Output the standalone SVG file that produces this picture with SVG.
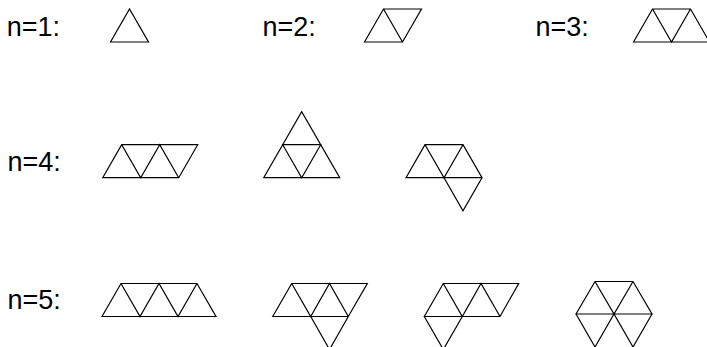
<svg xmlns="http://www.w3.org/2000/svg" width="707" height="347" viewBox="0 0 707 347">
<style>
.lbl{font-family:"Liberation Sans",Arial,sans-serif;font-size:27px;fill:#000}
.tri{fill:none;stroke:#000;stroke-width:1.2;stroke-linejoin:miter}
</style>
<rect width="707" height="347" fill="#fff"/>
<g id="labels">
<text class="lbl" x="6.8" y="36">n=1:</text>
<text class="lbl" x="262.5" y="36">n=2:</text>
<text class="lbl" x="535.5" y="36">n=3:</text>
<text class="lbl" x="7.5" y="170.7">n=4:</text>
<text class="lbl" x="7.5" y="309.3">n=5:</text>
</g>
<g id="n1"><path class="tri" d="M110.5,42 L129.5,9 L148.5,42 Z"/></g>
<g id="n2"><path class="tri" d="M364.5,42 L383.5,9 L421.5,9 L402.5,42 Z M383.5,9 L402.5,42"/></g>
<g id="n3"><path class="tri" d="M633.5,42 L652.5,9 L690.5,9 L709.5,42 Z M652.5,9 L671.5,42 L690.5,9"/></g>
<g id="n4a"><path class="tri" d="M102.7,177.7 L121.7,144.7 L197.7,144.7 L178.7,177.7 Z M121.7,144.7 L140.7,177.7 L159.7,144.7 L178.7,177.7"/></g>
<g id="n4b"><path class="tri" d="M263.7,177.7 L301.7,111.7 L339.7,177.7 Z M282.7,144.7 L320.7,144.7 L301.7,177.7 Z"/></g>
<g id="n4c"><path class="tri" d="M406,177.7 L425,144.7 L463,144.7 L482,177.7 Z M425,144.7 L444,177.7 L463,144.7 M444,177.7 L463,210.7 L482,177.7"/></g>
<g id="n5a"><path class="tri" d="M102,316.5 L121,283.5 L197,283.5 L216,316.5 Z M121,283.5 L140,316.5 L159,283.5 L178,316.5 L197,283.5"/></g>
<g id="n5b"><path class="tri" d="M272.7,316.5 L291.7,283.5 L367.3,283.5 L348.3,316.5 Z M291.7,283.5 L310.7,316.5 L329.5,283.5 L348.3,316.5 M310.7,316.5 L329.5,349.5 L348.3,316.5"/></g>
<g id="n5c"><path class="tri" d="M424.3,316.5 L443.3,283.5 L518.7,283.5 L500,316.5 Z M443.3,283.5 L462.3,316.5 L481,283.5 L500,316.5 M424.3,316.5 L443.3,349.5 L462.3,316.5"/></g>
<g id="n5d"><path class="tri" d="M576,314 L595,281.5 L633,281.5 L652,314 Z M595,281.5 L614,314 L633,281.5 M576,314 L595,347 L614,314 L633,347 L652,314"/></g>
<g id="connectors"></g>
</svg>
